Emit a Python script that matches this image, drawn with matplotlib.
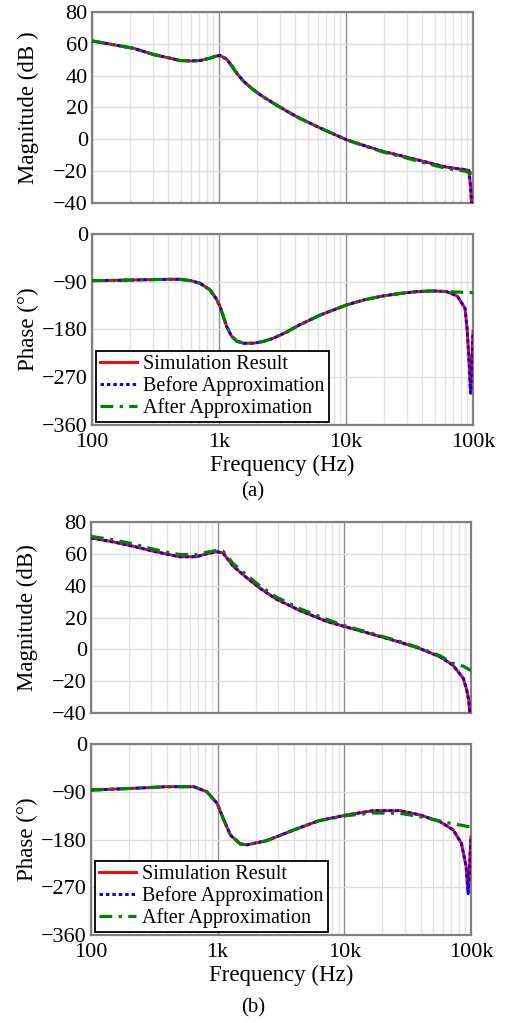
import matplotlib
matplotlib.use("Agg")
from matplotlib import pyplot as plt
from matplotlib.ticker import LogLocator, NullFormatter, FixedLocator
import numpy as np

plt.rcParams['font.family'] = 'serif'
plt.rcParams['font.serif'] = ['Liberation Serif', 'DejaVu Serif']
plt.rcParams['mathtext.fontset'] = 'stix'

# ---- case (a) ----
freq_a = [100, 150, 212, 304, 400, 493, 600, 710, 851, 950, 1020, 1150, 1250, 1380,
          1560, 1870, 2200, 2680, 3400, 4300, 6300, 10100, 14000, 19600, 27000, 36000,
          49000, 62000, 75000, 86500, 90000, 93000, 95800, 100000]
mag_sim_a = [61.8, 59.3, 57.2, 53.3, 51.2, 49.5, 49.2, 49.5, 51.0, 52.3, 52.6, 50.3, 46.5, 41.5,
             36.5, 31.0, 27.0, 22.7, 17.8, 13.3, 7.0, -0.3, -4.0, -7.6, -10.3, -12.8,
             -15.5, -17.5, -18.5, -19.0, -19.3, -19.8, -30.0, -60.0]
mag_bef_a = list(mag_sim_a)
mag_aft_a = [61.8, 59.3, 57.2, 53.3, 51.2, 49.5, 49.2, 49.5, 51.0, 52.3, 52.6, 50.3, 46.5, 41.5,
             36.5, 31.0, 27.0, 22.7, 17.8, 13.3, 7.0, -0.3, -4.2, -8.0, -10.8, -13.5,
             -16.3, -18.3, -19.3, -20.0, -20.5, -21.0, -21.3, -21.5]
ph_sim_a = [-88, -87.5, -86.7, -86, -85.5, -85.5, -88, -93, -105.5, -122, -137, -174.6, -192, -202,
            -206, -206, -203, -196.6, -185, -171.5, -152.6, -133.8, -124, -116.8, -112, -108.7,
            -107.4, -108.7, -116.8, -140, -181, -237, -300, -184]
ph_bef_a = list(ph_sim_a)
ph_aft_a = [-88, -87.5, -86.7, -86, -85.5, -85.5, -88, -93, -105.5, -122, -137, -174.6, -192, -202,
            -206, -206, -203, -196.6, -185, -171.5, -152.6, -133.8, -124, -116.8, -112, -108.7,
            -107.4, -108.7, -109.5, -110, -110.5, -110.5, -110.5, -110.5]

# ---- case (b) ----
freq_mag_b = [100, 150, 215, 309, 400, 502, 680, 815, 978, 1100, 1320, 1690, 2150, 2900,
              4450, 7200, 10400, 15000, 27300, 39600, 57000, 72000, 87000, 92600, 96000,
              98000, 100000]
mag_sim_b = [70.0, 67.5, 64.8, 61.7, 59.8, 58.2, 58.2, 60.0, 61.3, 60.7, 52.4, 45.1, 38.5, 31.6,
             24.4, 17.7, 14.0, 10.5, 4.6, 0.5, -4.7, -9.9, -18.2, -25.5, -32.0,
             -40.0, -50.0]
mag_bef_b = list(mag_sim_b)
mag_aft_b = [71.0, 68.8, 66.3, 63.0, 61.0, 59.6, 59.5, 61.0, 62.1, 61.8, 54.0, 46.8, 40.0, 32.9,
             25.6, 19.0, 14.5, 11.0, 5.0, 0.8, -4.0, -8.8, -10.6, -11.8, -12.5,
             -13.0, -13.4]
freq_ph_b = [100, 217, 398, 647, 820, 990, 1120, 1260, 1510, 1700, 2450, 3980, 6300, 10400,
             16900, 27500, 39700, 57000, 72400, 84000, 91500, 95000, 100000]
ph_sim_b = [-86.7, -83.5, -80.4, -80.4, -89.8, -111.8, -143.2, -171.5, -188.4, -190, -182, -162,
            -144.5, -133.8, -125.6, -125.6, -133.8, -146.4, -162, -187, -230, -282, -175]
ph_bef_b = list(ph_sim_b)
ph_aft_b = [-86.7, -83.5, -80.4, -80.4, -89.8, -111.8, -143.2, -171.5, -188.4, -190, -182, -162,
            -144.5, -135, -130, -130.6, -137, -145, -150.7, -153, -155, -155.5, -155.8]

labels = ['Simulation Result', 'Before Approximation', 'After Approximation']
xticks = [100, 1000, 10000, 100000]
xticklabels = ['100', '1k', '10k', '100k']
mag_ticks = [80, 60, 40, 20, 0, -20, -40]
ph_ticks = [0, -90, -180, -270, -360]

fig = plt.figure(figsize=(5.06, 10.23), dpi=100)
axes = [fig.add_axes([0.1818, 0.8016, 0.753, 0.1867]),
        fig.add_axes([0.1818, 0.5846, 0.753, 0.1867]),
        fig.add_axes([0.1798, 0.3030, 0.751, 0.1867]),
        fig.add_axes([0.1798, 0.0860, 0.751, 0.1867])]


def style(ax, yticks, ylim):
    ax.set_xscale('log')
    ax.set_xlim(100, 100000)
    ax.set_ylim(*ylim)
    ax.set_yticks(yticks)
    ax.xaxis.set_major_locator(FixedLocator(xticks))
    ax.xaxis.set_minor_locator(LogLocator(base=10, subs=np.arange(2, 10)))
    ax.xaxis.set_minor_formatter(NullFormatter())
    ax.set_xticklabels(xticklabels)
    ax.tick_params(axis='both', which='both', length=0, labelsize=16)
    ax.tick_params(axis='y', pad=3)
    ax.tick_params(axis='x', pad=6)
    ax.grid(True, which='minor', axis='x', color='#e2e2e2', lw=1.0)
    ax.grid(True, which='major', axis='x', color='#8c8c8c', lw=1.0)
    ax.grid(True, which='major', axis='y', color='#dedede', lw=1.0)
    ax.set_axisbelow(True)
    for s in ax.spines.values():
        s.set_color('#808080')
        s.set_linewidth(1.6)


def draw(ax, f_list, sim, bef, aft):
    ax.plot(f_list, sim, color='#ff0000', lw=2.1, ls='-', label=labels[0], zorder=3)
    ax.plot(f_list, bef, color='#0000ff', lw=2.1, ls=(0, (1.2, 1.0)), label=labels[1], zorder=3)
    ax.plot(f_list, aft, color='#008000', lw=2.3, ls=(0, (4, 2, 1, 2)), label=labels[2], zorder=3)


draw(axes[0], freq_a, mag_sim_a, mag_bef_a, mag_aft_a)
draw(axes[1], freq_a, ph_sim_a, ph_bef_a, ph_aft_a)
draw(axes[2], freq_mag_b, mag_sim_b, mag_bef_b, mag_aft_b)
draw(axes[3], freq_ph_b, ph_sim_b, ph_bef_b, ph_aft_b)

for i, ax in enumerate(axes):
    if i % 2 == 0:
        style(ax, mag_ticks, (-40, 80))
        ax.set_xticklabels([])
    else:
        style(ax, ph_ticks, (-360, 0))
        ax.set_xlabel('Frequency (Hz)', fontsize=16.5, labelpad=2)
        leg = ax.legend(loc='lower left', bbox_to_anchor=(0.01, 0.015), borderaxespad=0,
                        fontsize=14.5, fancybox=False, edgecolor='black', framealpha=1,
                        handlelength=1.85, handletextpad=0.3, labelspacing=0.1,
                        borderpad=0.2)
        leg.get_frame().set_linewidth(1.3)
        leg.set_zorder(5)

axes[0].set_ylabel('Magnitude (dB )', fontsize=16.5)
axes[1].set_ylabel('Phase (°)', fontsize=16.5)
axes[2].set_ylabel('Magnitude (dB)', fontsize=16.5)
axes[3].set_ylabel('Phase (°)', fontsize=16.5)
for ax in axes:
    ax.yaxis.set_label_coords(-0.14, 0.5)

fig.text(0.5, 1 - 492 / 1023, '(a)', ha='center', va='center', fontsize=15)
fig.text(0.5, 1 - 1008 / 1023, '(b)', ha='center', va='center', fontsize=15)

fig.savefig('out.png', dpi=100)
